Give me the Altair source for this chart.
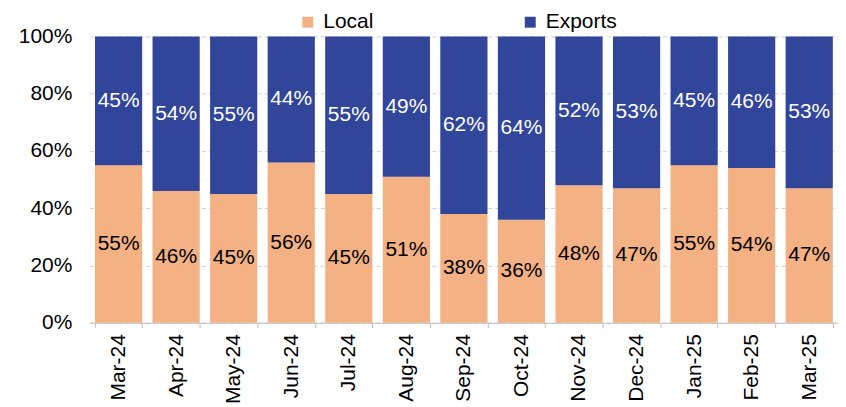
import altair as alt
import pandas as pd

months = ["Mar-24", "Apr-24", "May-24", "Jun-24", "Jul-24", "Aug-24", "Sep-24",
          "Oct-24", "Nov-24", "Dec-24", "Jan-25", "Feb-25", "Mar-25"]
local = [55, 46, 45, 56, 45, 51, 38, 36, 48, 47, 55, 54, 47]
exports = [45, 54, 55, 44, 55, 49, 62, 64, 52, 53, 45, 46, 53]
series = ["Local", "Exports"]
colors = ["#F4B183", "#31459A"]

rows = []
for i, m in enumerate(months):
    rows.append({"month": m, "series": "Local", "value": local[i], "ord": 0})
    rows.append({"month": m, "series": "Exports", "value": exports[i], "ord": 1})
df = pd.DataFrame(rows)

FONT = "Liberation Sans"
W, H = 750, 287

base = alt.Chart(df).transform_stack(
    stack="value", as_=["v0", "v1"], groupby=["month"], sort=[{"field": "ord"}]
).transform_calculate(mid="(datum.v0 + datum.v1) / 2")

xenc = alt.X("month:N", sort=months, title=None,
             scale=alt.Scale(paddingInner=0.18, paddingOuter=0.09),
             axis=alt.Axis(labelAngle=270, labelAlign="right", labelBaseline="middle",
                           labelFontSize=21, labelFont=FONT, labelColor="#000000",
                           labelPadding=6, tickBand="extent", tickSize=5,
                           tickColor="#bfbfbf", domainColor="#bfbfbf", grid=False))

bars = base.mark_bar().encode(
    x=xenc,
    y=alt.Y("v0:Q", scale=alt.Scale(domain=[0, 100]), title=None,
            axis=alt.Axis(values=[0, 20, 40, 60, 80, 100], labelExpr="datum.value + '%'",
                          labelFontSize=21, labelFont=FONT, labelColor="#000000",
                          labelPadding=18, domain=False, ticks=False,
                          gridDash=[4, 3], gridColor="#d0d0d0")),
    y2="v1:Q",
    color=alt.Color("series:N", scale=alt.Scale(domain=series, range=colors), title=None,
                    legend=alt.Legend(orient="none", legendX=208, legendY=-25,
                                      direction="horizontal", symbolType="square",
                                      symbolSize=120, symbolStrokeWidth=0,
                                      labelFontSize=21, labelFont=FONT,
                                      labelColor="#000000", columnPadding=146,
                                      labelOffset=5)),
)

texts = base.mark_text(fontSize=21, font=FONT).encode(
    x=alt.X("month:N", sort=months),
    y=alt.Y("mid:Q"),
    text=alt.Text("label:N"),
    color=alt.Color("series:N", scale=alt.Scale(domain=series, range=["#000000", "#ffffff"]),
                    legend=None),
).transform_calculate(label="datum.value + '%'")

chart = alt.layer(bars, texts).resolve_scale(color="independent").properties(
    width=W, height=H,
    autosize=alt.AutoSizeParams(type="none"),
    padding={"left": 82, "top": 28, "right": 0, "bottom": 84},
).configure_view(stroke=None)

chart.save("out.html", embed_options={"renderer": "svg", "actions": False})
